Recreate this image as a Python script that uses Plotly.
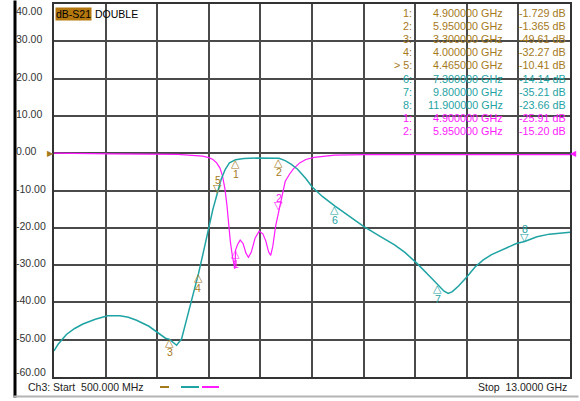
import plotly.graph_objects as go

# ---------------- data ----------------
teal_freq = [0.5, 0.6, 0.8, 1.0, 1.2, 1.5, 1.8, 2.1, 2.3, 2.5, 2.8, 3.05, 3.2, 3.3, 3.47, 3.59,
             3.71, 3.84, 4.0, 4.15, 4.25, 4.35, 4.465, 4.55, 4.65, 4.75, 4.9, 5.1, 5.4, 5.7, 5.95,
             6.1, 6.25, 6.4, 6.6, 6.75, 7.0, 7.3, 7.6, 8.0, 8.4, 8.75, 9.0, 9.3, 9.6, 9.8, 9.95,
             10.05, 10.15, 10.3, 10.5, 10.7, 10.9, 11.1, 11.4, 11.7, 11.9, 12.2, 12.5, 12.8, 13.0]
teal_db = [-53.0, -51.2, -48.6, -47.0, -45.8, -44.5, -43.6, -43.6, -44.0, -44.8, -46.4, -48.3,
           -49.6, -49.9, -51.5, -49.8, -44.9, -39.5, -32.3, -25.0, -20.0, -15.0, -10.4, -7.0,
           -4.3, -2.6, -1.73, -1.45, -1.3, -1.3, -1.37, -2.0, -3.0, -4.3, -6.8, -9.0, -11.6,
           -14.14, -16.5, -19.6, -22.3, -24.6, -26.6, -29.6, -33.0, -35.2, -37.0, -37.6, -37.1,
           -35.6, -33.2, -30.5, -28.6, -27.2, -25.6, -24.2, -23.66, -22.4, -21.7, -21.3, -21.2]

mag_freq = [0.5, 1.5, 1.9, 3.5, 3.9, 4.1, 4.25, 4.35, 4.44, 4.52, 4.58, 4.64, 4.69, 4.73, 4.77,
            4.82, 4.86, 4.88, 4.9, 4.95, 5.01, 5.08, 5.15, 5.21, 5.28, 5.37, 5.47, 5.56, 5.63,
            5.7, 5.75, 5.8, 5.87, 5.95, 6.02, 6.1, 6.2, 6.3, 6.45, 6.6, 6.8, 7.0, 7.3, 8.0, 13.0]
mag_db = [0.0, 0.0, -0.2, -0.3, -0.6, -0.8, -1.2, -1.7, -2.6, -4.0, -6.0, -9.5, -14.0, -19.0,
          -23.5, -27.5, -30.5, -31.0, -25.9, -24.4, -23.3, -24.2, -26.8, -27.9, -26.5, -22.8,
          -20.9, -21.6, -23.5, -26.5, -27.4, -25.0, -19.5, -15.2, -11.0, -7.6, -5.7, -4.2, -2.6,
          -1.7, -1.1, -0.8, -0.5, -0.4, -0.4]

# markers
gold_mk_freq = [4.9, 5.95, 3.3, 4.0, 4.465]
gold_mk_db = [-1.729, -1.365, -49.61, -32.27, -10.41]
gold_mk_lbl = ["1", "2", "3", "4", "5"]
gold_mk_dir = ["up", "up", "up", "up", "down"]

teal_mk_freq = [7.3, 9.8, 11.9]
teal_mk_db = [-14.14, -35.21, -23.66]
teal_mk_lbl = ["6", "7", "8"]
teal_mk_dir = ["up", "up", "down"]

mag_mk_freq = [4.9, 5.95]
mag_mk_db = [-25.91, -15.20]
mag_mk_lbl = ["1", "2"]
mag_mk_dir = ["up", "down"]

# marker table
tbl_idx = ["1:", "2:", "3:", "4:", "> 5:", "6:", "7:", "8:", "1:", "2:"]
tbl_freq = ["4.900000 GHz", "5.950000 GHz", "3.300000 GHz", "4.000000 GHz", "4.465000 GHz",
            "7.300000 GHz", "9.800000 GHz", "11.900000 GHz", "4.900000 GHz", "5.950000 GHz"]
tbl_val = ["-1.729 dB", "-1.365 dB", "-49.61 dB", "-32.27 dB", "-10.41 dB",
           "-14.14 dB", "-35.21 dB", "-23.66 dB", "-25.91 dB", "-15.20 dB"]
tbl_trace = ["g", "g", "g", "g", "g", "t", "t", "t", "m", "m"]

y_ticks = [40, 30, 20, 10, 0, -10, -20, -30, -40, -50, -60]
y_tick_text = ["40.00", "30.00", "20.00", "10.00", "0.00", "-10.00", "-20.00", "-30.00",
               "-40.00", "-50.00", "-60.00"]

# ---------------- style ----------------
GOLD = "#a57a1c"
TEAL = "#1fa3a3"
MAG = "#ff1aff"
COL = {"g": GOLD, "t": TEAL, "m": MAG}
FONT = "Liberation Sans, Arial, sans-serif"
FS = 10.5
FS_TBL = 10.8
GRID = "#4a4a4a"

W, H = 580, 401
L, R, T, B = 54, 10, 4, 24
PW, PH = W - L - R, H - T - B


def px(x):
    return (x - L) / PW


def py(y):
    return (H - B - y) / PH


fig = go.Figure()
fig.add_trace(go.Scatter(x=mag_freq, y=mag_db, mode="lines",
                         line=dict(color=MAG, width=1.2), hoverinfo="skip"))
fig.add_trace(go.Scatter(x=teal_freq, y=teal_db, mode="lines",
                         line=dict(color=TEAL, width=1.5), hoverinfo="skip"))

ann = []

# frame decorations (left black rule, bottom gray rule)
ann.append(dict(x=px(12.5), y=py(0), xref="paper", yref="paper", text=" ", showarrow=False,
                xanchor="left", yanchor="top", width=2, height=396, borderpad=0,
                bgcolor="#000000", font=dict(size=1)))
ann.append(dict(x=px(12.5), y=py(395.5), xref="paper", yref="paper", text=" ",
                showarrow=False, xanchor="left", yanchor="top", width=564, height=1,
                borderpad=0, bgcolor="#b4b4b4", font=dict(size=1)))

# y tick labels (left aligned)
for v, t in zip(y_ticks, y_tick_text):
    ys = 2
    if v == 40:
        ys = -7
    elif v == -60:
        ys = 5
    ann.append(dict(x=px(14.6), xref="paper", y=v, yref="y", text=t, showarrow=False,
                    xanchor="left", yanchor="middle", yshift=ys, borderpad=0,
                    font=dict(family=FONT, size=FS, color="#333333")))


def add_markers(freqs, dbs, lbls, dirs, color):
    for f, d, lb, dr in zip(freqs, dbs, lbls, dirs):
        if dr == "up":
            tri, ts, ns = "\u25b3", -4, -14
        else:
            tri, ts, ns = "\u25bd", 4, 12
        ann.append(dict(x=f, y=d, xref="x", yref="y", text=tri, showarrow=False,
                        xanchor="center", yanchor="middle", yshift=ts,
                        font=dict(family="DejaVu Sans", size=11, color=color)))
        ann.append(dict(x=f, y=d, xref="x", yref="y", text=lb, showarrow=False,
                        xanchor="center", yanchor="middle", yshift=ns,
                        font=dict(family=FONT, size=FS, color=color)))


add_markers(gold_mk_freq, gold_mk_db, gold_mk_lbl, gold_mk_dir, GOLD)
add_markers(teal_mk_freq, teal_mk_db, teal_mk_lbl, teal_mk_dir, TEAL)
add_markers(mag_mk_freq, mag_mk_db, mag_mk_lbl, mag_mk_dir, MAG)

# marker table
for i in range(len(tbl_idx)):
    yy = py(13.3 + 13.04 * i)
    c = COL[tbl_trace[i]]
    f = dict(family=FONT, size=FS_TBL, color=c)
    ann.append(dict(x=px(414), y=yy, xref="paper", yref="paper", text=tbl_idx[i],
                    showarrow=False, xanchor="right", yanchor="middle", font=f))
    ann.append(dict(x=px(505), y=yy, xref="paper", yref="paper", text=tbl_freq[i],
                    showarrow=False, xanchor="right", yanchor="middle", font=f))
    ann.append(dict(x=px(517), y=yy, xref="paper", yref="paper", text=tbl_val[i],
                    showarrow=False, xanchor="left", yanchor="middle", font=f))

# title tag
ann.append(dict(x=px(55), y=py(13.8), xref="paper", yref="paper", text="dB-S21",
                showarrow=False, xanchor="left", yanchor="middle", bgcolor="#b5780f",
                borderpad=0, font=dict(family=FONT, size=FS, color="#000000")))
ann.append(dict(x=px(93), y=py(13.8), xref="paper", yref="paper", text="DOUBLE",
                showarrow=False, xanchor="left", yanchor="middle",
                font=dict(family=FONT, size=FS, color="#000000")))

# reference arrows
ann.append(dict(x=0.5, y=0, xref="x", yref="y", text="\u25b6", showarrow=False,
                xanchor="right", yanchor="middle", xshift=2,
                font=dict(family="DejaVu Sans", size=8, color=GOLD)))
ann.append(dict(x=13.0, y=0, xref="x", yref="y", text="\u25c0", showarrow=False,
                xanchor="left", yanchor="middle", xshift=-2,
                font=dict(family="DejaVu Sans", size=8, color=MAG)))

# footer
ann.append(dict(x=px(26), y=py(387), xref="paper", yref="paper",
                text="Ch3: Start  500.000 MHz", showarrow=False, xanchor="left",
                yanchor="middle", font=dict(family=FONT, size=FS, color="#222222")))
ann.append(dict(x=px(569), y=py(387), xref="paper", yref="paper",
                text="Stop  13.0000 GHz", showarrow=False, xanchor="right",
                yanchor="middle", font=dict(family=FONT, size=FS, color="#222222")))

shapes = [
    dict(type="line", xref="paper", yref="paper", x0=px(160), x1=px(169), y0=py(387),
         y1=py(387), line=dict(color=GOLD, width=2)),
    dict(type="line", xref="paper", yref="paper", x0=px(181), x1=px(199), y0=py(387),
         y1=py(387), line=dict(color=TEAL, width=2)),
    dict(type="line", xref="paper", yref="paper", x0=px(202), x1=px(219), y0=py(387),
         y1=py(387), line=dict(color=MAG, width=2)),
]

fig.update_layout(
    template="none",
    width=W, height=H,
    margin=dict(l=L, r=R, t=T, b=B, pad=0),
    paper_bgcolor="white", plot_bgcolor="white",
    showlegend=False,
    annotations=ann, shapes=shapes,
    xaxis=dict(range=[0.5, 13.0], tick0=0.5, dtick=1.25, showticklabels=False,
               showgrid=True, gridcolor=GRID, gridwidth=1.5, zeroline=False,
               showline=True, mirror=True, linecolor="#333333", linewidth=1.5),
    yaxis=dict(range=[-60, 40], tick0=0, dtick=10, showticklabels=False,
               showgrid=True, gridcolor=GRID, gridwidth=1.5, zeroline=False,
               showline=True, mirror=True, linecolor="#333333", linewidth=1.5),
)

fig.write_html("out.html", config={"displayModeBar": False},
               post_script="document.body.style.margin='0';document.body.style.overflow='hidden';")
